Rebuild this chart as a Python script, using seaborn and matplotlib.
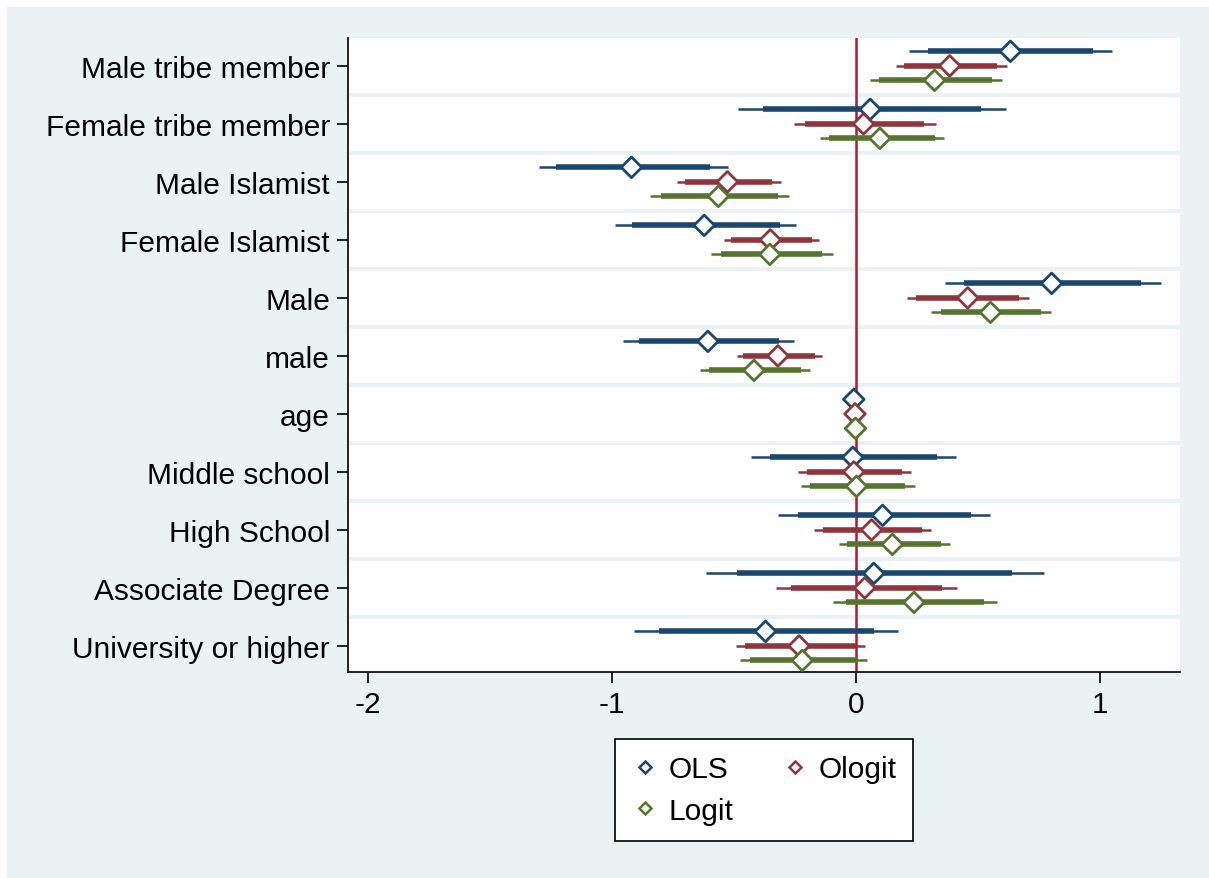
import numpy as np
import pandas as pd
import matplotlib
matplotlib.use("Agg")
import matplotlib.pyplot as plt
from matplotlib.patches import Rectangle
from matplotlib.lines import Line2D
import seaborn as sns

# categories, top to bottom
categories = ["Male tribe member", "Female tribe member", "Male Islamist",
              "Female Islamist", "Male", "male", "age", "Middle school",
              "High School", "Associate Degree", "University or higher"]

models = ["OLS", "Ologit", "Logit"]

# point estimates
ols_coef = [0.633, 0.058, -0.920, -0.622, 0.802, -0.607, -0.009, -0.013, 0.109, 0.073, -0.371]
ologit_coef = [0.384, 0.031, -0.527, -0.351, 0.458, -0.320, -0.004, -0.009, 0.064, 0.036, -0.233]
logit_coef = [0.322, 0.098, -0.564, -0.353, 0.551, -0.418, -0.002, 0.002, 0.149, 0.238, -0.220]

# 95% intervals (thin)
ols_lo95 = [0.218, -0.482, -1.300, -0.989, 0.364, -0.953, -0.012, -0.431, -0.320, -0.613, -0.909]
ols_hi95 = [1.051, 0.613, -0.524, -0.244, 1.251, -0.253, -0.006, 0.409, 0.551, 0.769, 0.171]
ologit_lo95 = [0.162, -0.253, -0.733, -0.542, 0.209, -0.489, -0.006, -0.238, -0.171, -0.327, -0.491]
ologit_hi95 = [0.618, 0.329, -0.309, -0.151, 0.711, -0.140, -0.002, 0.227, 0.309, 0.413, 0.038]
logit_lo95 = [0.056, -0.149, -0.844, -0.593, 0.307, -0.640, -0.004, -0.227, -0.071, -0.093, -0.476]
logit_hi95 = [0.600, 0.362, -0.276, -0.096, 0.798, -0.187, 0.000, 0.242, 0.384, 0.578, 0.047]

# 90% intervals (thick)
ols_lo90 = [0.296, -0.382, -1.231, -0.920, 0.444, -0.889, -0.011, -0.353, -0.238, -0.487, -0.807]
ols_hi90 = [0.973, 0.513, -0.598, -0.311, 1.168, -0.316, -0.007, 0.331, 0.473, 0.640, 0.073]
ologit_lo90 = [0.196, -0.209, -0.700, -0.511, 0.247, -0.464, -0.005, -0.202, -0.136, -0.267, -0.453]
ologit_hi90 = [0.580, 0.280, -0.344, -0.182, 0.669, -0.169, -0.003, 0.189, 0.271, 0.351, 0.000]
logit_lo90 = [0.096, -0.109, -0.800, -0.553, 0.347, -0.604, -0.003, -0.189, -0.038, -0.040, -0.436]
logit_hi90 = [0.556, 0.322, -0.320, -0.138, 0.760, -0.227, -0.001, 0.202, 0.347, 0.524, 0.007]

xticks = [-2, -1, 0, 1]

colors = {"OLS": "#1a476f", "Ologit": "#90353b", "Logit": "#55752f"}
offsets = {"OLS": -0.25, "Ologit": 0.0, "Logit": 0.25}
bg = "#eaf2f3"

rows = []
for m, coef, l95, h95, l90, h90 in [
        ("OLS", ols_coef, ols_lo95, ols_hi95, ols_lo90, ols_hi90),
        ("Ologit", ologit_coef, ologit_lo95, ologit_hi95, ologit_lo90, ologit_hi90),
        ("Logit", logit_coef, logit_lo95, logit_hi95, logit_lo90, logit_hi90)]:
    for i, c in enumerate(categories):
        rows.append(dict(model=m, var=c, pos=i + offsets[m], coef=coef[i],
                         lo95=l95[i], hi95=h95[i], lo90=l90[i], hi90=h90[i]))
df = pd.DataFrame(rows)

sns.set_theme(style="white")
plt.rcParams["font.family"] = ["Liberation Sans", "DejaVu Sans"]
plt.rcParams["text.color"] = "black"

fig = plt.figure(figsize=(12.09, 8.79), dpi=100)
fig.patches.append(Rectangle((7 / 1209, 0), 1, 1 - 8 / 879, transform=fig.transFigure,
                             facecolor=bg, edgecolor="none", zorder=-10))
ax = fig.add_axes([348 / 1209, 1 - 673 / 879, (1180 - 348) / 1209, (673 - 39) / 879])
ax.set_facecolor("white")

# separators between categories
for i in range(len(categories) - 1):
    ax.axhline(i + 0.5, color=bg, lw=3.0, zorder=0)

ax.axvline(0, color="#c8102e", lw=1.8, zorder=1)

for m in models:
    d = df[df.model == m]
    ax.hlines(d.pos, d.lo95, d.hi95, color=colors[m], lw=1.8, zorder=2)
    ax.hlines(d.pos, d.lo90, d.hi90, color=colors[m], lw=4.0, zorder=2)

sns.scatterplot(data=df, x="coef", y="pos", hue="model", palette=colors,
                marker="D", s=110, linewidth=2.0, legend=False, ax=ax, zorder=3)
pts = ax.collections[-1]
pts.set_facecolor("white")
pts.set_edgecolor([colors[m] for m in df.model])

ax.set_xlim(-2.082, 1.328)
ax.set_ylim(10.45, -0.48)
ax.set_yticks(range(len(categories)))
ax.set_yticklabels(categories, fontsize=21.5, color="black")
ax.set_xticks(xticks)
ax.set_xticklabels([str(t) for t in xticks], fontsize=21.5, color="black")
ax.set_xlabel("")
ax.set_ylabel("")
ax.tick_params(axis="both", direction="out", length=8, width=1.2, color="black",
               left=True, bottom=True, pad=5)
for s in ["top", "right"]:
    ax.spines[s].set_visible(False)
for s in ["left", "bottom"]:
    ax.spines[s].set_color("black")
    ax.spines[s].set_linewidth(1.2)

# order so that the rows read OLS, Ologit / Logit
leg_order = ["OLS", "Logit", "Ologit"]
handles = [Line2D([], [], ls="none", marker="D", markersize=6.5, markerfacecolor="white",
                  markeredgecolor=colors[m], markeredgewidth=1.8) for m in leg_order]
leg = fig.legend(handles, leg_order, ncol=2, loc="center",
                 bbox_to_anchor=(764 / 1209, 1 - 791 / 879), fontsize=21.5,
                 frameon=True, fancybox=False, edgecolor="black", facecolor="white",
                 framealpha=1, handletextpad=0.35, columnspacing=1.6, labelspacing=0.45,
                 borderpad=0.55, handlelength=0.9)
leg.get_frame().set_linewidth(1.2)
for t in leg.get_texts():
    t.set_color("black")

fig.savefig("out.png", dpi=100, facecolor="white")
